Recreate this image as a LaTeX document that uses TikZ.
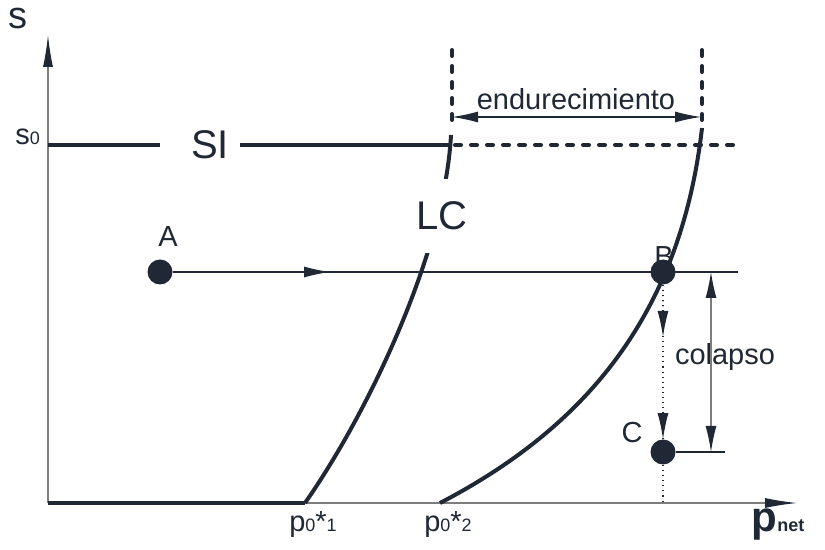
\documentclass[tikz,border=0pt]{standalone}
\usepackage{fontspec}
\setmainfont{Liberation Sans}
\usetikzlibrary{arrows.meta, calc}
\definecolor{ink}{RGB}{31,40,52}
\definecolor{axisgray}{RGB}{125,125,125}

\begin{document}
\begin{tikzpicture}[x=0.5pt, y=-0.5pt,
  curve/.style={ink, line width=2pt},
  dashcurve/.style={ink, line width=2pt, line cap=round, dash pattern=on 3pt off 5pt},
  thinline/.style={ink, line width=0.55pt},
  state/.style={circle, fill=ink, inner sep=0pt, minimum size=12.5pt},
  lbl/.style={ink, font=\fontsize{14.5}{16}\selectfont},
  biglbl/.style={ink, font=\fontsize{20}{22}\selectfont},
  tip/.style={-{Latex[length=13pt, width=5.5pt]}},
  axistip/.style={-{Latex[length=16pt, width=5pt, color=ink]}},
  twotip/.style={{Latex[length=13pt, width=5.5pt, color=ink]}-{Latex[length=13pt, width=5.5pt, color=ink]}}]
\useasboundingbox (0,0) rectangle (825,550);
\newcommand{\subsz}{\fontsize{9}{9}\selectfont}
% axes
\coordinate (origin) at (48,503);
\coordinate (ytip) at (48,35);
\coordinate (xtip) at (797,503);
\draw[axisgray, line width=0.6pt, axistip] (origin) -- (ytip);
\draw[axisgray, line width=0.6pt, axistip] (origin) -- (xtip);
\node[ink, font=\fontsize{19}{20}\selectfont] (slabel) at (18,18) {s};
\node[lbl, anchor=base east] (s0label) at (47,145) {s\subsz 0};
\node[ink, anchor=base, font=\bfseries\fontsize{21}{22}\selectfont] (pnet) at (778,531) {p{\subsz net}};
% curves LC
\coordinate (p01) at (305,503);
\coordinate (p02) at (440,503);
\coordinate (lctop) at (451,135);
\coordinate (lc2top) at (702,128);
\draw[curve] (p01) .. controls (370,410) and (445,250) .. (lctop);
\draw[curve] (p02) .. controls (580,430) and (680,320) .. (lc2top);
\draw[curve] (48,503) -- (p01);
\node[lbl, anchor=base] (p01label) at (313,531) {p\subsz 0\fontsize{14.5}{16}\selectfont*\subsz 1};
\node[lbl, anchor=base] (p02label) at (448,531) {p\subsz 0\fontsize{14.5}{16}\selectfont*\subsz 2};
\node[biglbl, fill=white, inner xsep=4pt, minimum height=37pt] (LC) at (442,216) {LC};
% SI
\coordinate (s0) at (48,145);
\node[biglbl] (SI) at (210,145) {SI};
\coordinate (siend) at (735,145);
\draw[curve] (s0) -- ([xshift=-12pt]SI.west);
\draw[curve] ([xshift=2pt]SI.east) -- (450,145);
\draw[dashcurve] (455,145) -- (siend);
% endurecimiento
\coordinate (e1) at (452,117);
\coordinate (e2) at (701,117);
\draw[dashcurve] (452,50) -- (452,128);
\draw[dashcurve] (702,50) -- (702,120);
\draw[thinline, twotip] (e1) -- (e2);
\node[lbl] (endur) at (576,99) {endurecimiento};
% states
\node[state] (A) at (160,272) {};
\node[lbl] (Blabel) at (664,257) {B};
\node[state] (B) at (663,272) {};
\node[state] (C) at (663,452) {};
\node[lbl] (Alabel) at (168,237) {A};
\node[lbl] (Clabel) at (632,433) {C};
\coordinate (Bend) at (738,272);
\coordinate (Cend) at (725,452);
\draw[thinline] (A) -- (Bend);
\draw[thinline, tip] (A) -- ($(A)!0.338!(B)$);
\draw[thinline, dotted] (B) -- (C);
\draw[thinline, dotted] (C) -- (663,503);
\draw[thinline, dotted, tip] (B) -- ($(B)!0.36!(C)$);
\draw[thinline, dotted, tip] ($(B)!0.8!(C)$) -- (C);
\draw[thinline] (C) -- (Cend);
% colapso
\coordinate (c1) at (711,272);
\coordinate (c2) at (711,452);
\draw[axisgray, line width=0.6pt, twotip] (c1) -- (c2);
\node[lbl] (colapso) at (725,357) {colapso};
\end{tikzpicture}
\end{document}
